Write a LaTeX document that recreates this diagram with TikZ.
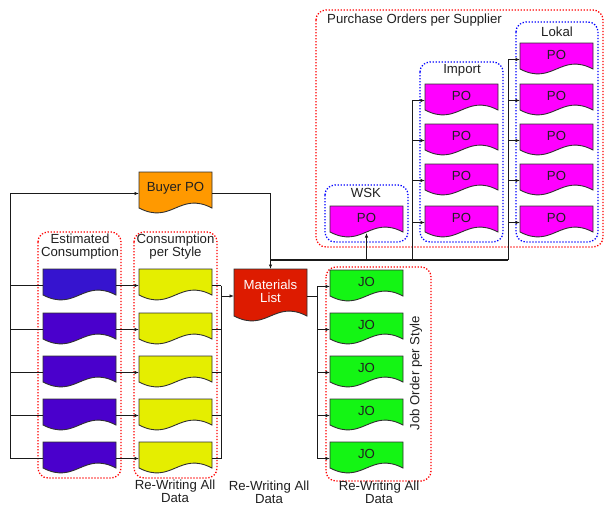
\documentclass[tikz,border=0pt]{standalone}
\usepackage{fontspec}
\setmainfont{Liberation Sans}
\usetikzlibrary{arrows.meta,calc}
\definecolor{cOrange}{HTML}{FF9900}
\definecolor{cBlueA}{HTML}{3614CF}
\definecolor{cBlueB}{HTML}{4A00CC}
\definecolor{cYellow}{HTML}{E5EE00}
\definecolor{cRed}{HTML}{DD1B00}
\definecolor{cGreen}{HTML}{14F514}
\definecolor{cMagenta}{HTML}{FF00FF}
\definecolor{cEdge}{HTML}{303030}
\definecolor{cLine}{HTML}{1A1A1A}
\definecolor{cText}{HTML}{202020}
\tikzset{
  docedge/.style={draw=cEdge, line width=0.9pt, line join=miter},
  grpred/.style={draw=red, line width=1.3pt, dash pattern=on 1.3pt off 1.7pt, rounded corners=10pt},
  grpblue/.style={draw=blue, line width=1.3pt, dash pattern=on 1.3pt off 1.7pt, rounded corners=10pt},
  conn/.style={draw=cLine, line width=0.8pt},
  arr/.style={conn, -{Latex[length=4.5pt,width=3.5pt]}},
  busline/.style={draw=cLine, line width=2pt},
  lbl/.style={text=cText, inner sep=0pt, align=center},
  anchorbox/.style={inner sep=0pt, outer sep=0pt, draw=none},
}
% #1 name, #2 x, #3 y(top), #4 width, #5 height, #6 fill, #7 text colour, #8 text
\newcommand\docshape[8]{%
  \node[anchorbox, minimum width=#4pt, minimum height=#5pt, anchor=north west] (#1) at (#2,#3) {};
  \draw[docedge, fill=#6] (#2,#3) -- ({#2+#4},#3) -- ({#2+#4},{#3+#5-7})
    .. controls ({#2+0.55*#4},{#3+#5-24}) and ({#2+0.45*#4},{#3+#5+10}) .. (#2,{#3+#5-7}) -- cycle;
  \node[lbl, text=#7] (#1t) at ({#2+0.5*#4},{#3+(#5-10)/2}) {#8};
}
\begin{document}
\begin{tikzpicture}[x=1pt, y=-1pt, font=\fontsize{13.2}{13.2}\selectfont]
\useasboundingbox (0,0) rectangle (605,506);

% group frames
\draw[grpred] (38,232) rectangle (121,478);
\draw[grpred] (134,232) rectangle (217,478);
\draw[grpred] (326,267) rectangle (431,481);
\draw[grpred] (316,10) rectangle (603,247);
\draw[grpblue] (325,185) rectangle (408,242);
\draw[grpblue] (420,62) rectangle (503,242);
\draw[grpblue] (516,22) rectangle (598,242);

% group labels
\node[lbl] (lEst) at (80,246.5) {Estimated\\Consumption};
\node[lbl] (lCps) at (175.5,246.5) {Consumption\\per Style};
\node[lbl] (lWsk) at (366,193) {WSK};
\node[lbl] (lImp) at (462,70) {Import};
\node[lbl] (lLok) at (557,32) {Lokal};
\node[lbl, anchor=west] (lPos) at (327,20) {Purchase Orders per Supplier};
\node[lbl, rotate=90] (lJo) at (416,373) {Job Order per Style};
\node[lbl] (lB1) at (175,491.5) {Re-Writing All\\Data};
\node[lbl] (lB2) at (269,492.5) {Re-Writing All\\Data};
\node[lbl] (lB3) at (379,492.5) {Re-Writing All\\Data};

% documents
\docshape{buyer}{139}{172}{73}{43}{cOrange}{cText}{Buyer PO}
\docshape{ml}{234}{269}{73}{54}{cRed}{white}{Materials\\List}

\docshape{est1}{43}{269}{73}{33}{cBlueA}{cText}{}
\docshape{est2}{43}{313}{73}{33}{cBlueB}{cText}{}
\docshape{est3}{43}{356}{73}{33}{cBlueB}{cText}{}
\docshape{est4}{43}{399}{73}{33}{cBlueB}{cText}{}
\docshape{est5}{43}{442}{73}{33}{cBlueB}{cText}{}

\docshape{cps1}{139}{269}{73}{33}{cYellow}{cText}{}
\docshape{cps2}{139}{313}{73}{33}{cYellow}{cText}{}
\docshape{cps3}{139}{356}{73}{33}{cYellow}{cText}{}
\docshape{cps4}{139}{399}{73}{33}{cYellow}{cText}{}
\docshape{cps5}{139}{442}{73}{33}{cYellow}{cText}{}

\docshape{jo1}{330}{270}{73}{33}{cGreen}{cText}{JO}
\docshape{jo2}{330}{313}{73}{33}{cGreen}{cText}{JO}
\docshape{jo3}{330}{356}{73}{33}{cGreen}{cText}{JO}
\docshape{jo4}{330}{399}{73}{33}{cGreen}{cText}{JO}
\docshape{jo5}{330}{442}{73}{33}{cGreen}{cText}{JO}

\docshape{wsk}{330}{206}{73}{33}{cMagenta}{cText}{PO}

\docshape{imp1}{425}{84}{73}{33}{cMagenta}{cText}{PO}
\docshape{imp2}{425}{124}{73}{33}{cMagenta}{cText}{PO}
\docshape{imp3}{425}{164}{73}{33}{cMagenta}{cText}{PO}
\docshape{imp4}{425}{206}{73}{33}{cMagenta}{cText}{PO}

\docshape{lok1}{520}{43}{73}{33}{cMagenta}{cText}{PO}
\docshape{lok2}{520}{84}{73}{33}{cMagenta}{cText}{PO}
\docshape{lok3}{520}{124}{73}{33}{cMagenta}{cText}{PO}
\docshape{lok4}{520}{164}{73}{33}{cMagenta}{cText}{PO}
\docshape{lok5}{520}{206}{73}{33}{cMagenta}{cText}{PO}

% helper coordinates
\coordinate (xL) at (10,0);
\coordinate (xR) at (221,0);
\coordinate (xJ) at (317,0);
\coordinate (xI) at (412,0);
\coordinate (xK) at (508,0);
\coordinate (yBus) at (0,260);
\coordinate (wskbot) at (366.5,233);

% left feed
\draw[arr] (est5.west -| xL) |- (buyer.west);
\foreach \i in {1,...,5} {
  \draw[conn] (est\i.west -| xL) -- (est\i.west);
  \draw[arr] (est\i.east) -- (cps\i.west);
  \draw[conn] (cps\i.east) -- (cps\i.east -| xR);
  \draw[arr] (jo\i.west -| xJ) -- (jo\i.west);
}
\draw[conn] (cps1.east -| xR) -- (cps5.east -| xR);
\draw[arr] (ml.west -| xR) -- (ml.west);

% materials list to job orders
\draw[conn] (ml.east) -- (ml.east -| xJ);
\draw[conn] (jo1.west -| xJ) -- (jo5.west -| xJ);

% buyer PO to materials list
\draw[arr] (buyer.east) -| (ml.north);

% bus to purchase orders
\draw[busline] (ml.north |- yBus) -- (xK |- yBus);
\draw[arr] (wsk.south |- yBus) -- (wskbot);
\draw[conn] (xI |- yBus) -- (imp1.west -| xI);
\draw[conn] (xK |- yBus) -- (lok1.west -| xK);
\foreach \i in {1,...,4} { \draw[arr] (imp\i.west -| xI) -- (imp\i.west); }
\foreach \i in {1,...,5} { \draw[arr] (lok\i.west -| xK) -- (lok\i.west); }
\end{tikzpicture}
\end{document}
